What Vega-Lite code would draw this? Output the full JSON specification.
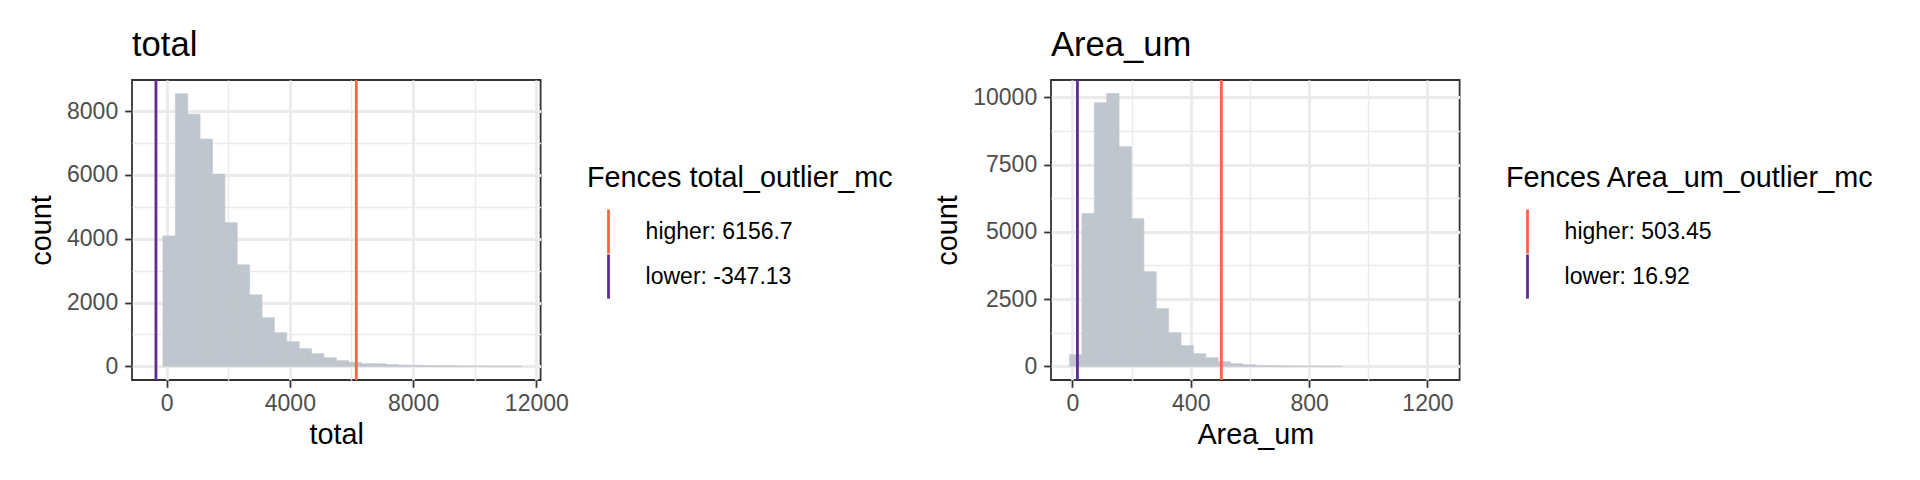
{
  "$schema": "https://vega.github.io/schema/vega-lite/v6.json",
  "padding": {"left": 26, "top": 27, "right": 5, "bottom": 5},
  "bounds": "flush",
  "spacing": 510,
  "datasets": {
    "bins_total": [
      {"bin_start": -119.8, "bin_end": 282.2, "count": 4090},
      {"bin_start": 282.2, "bin_end": 684.2, "count": 8550},
      {"bin_start": 684.2, "bin_end": 1086.1, "count": 7907},
      {"bin_start": 1086.1, "bin_end": 1488.0, "count": 7125},
      {"bin_start": 1488.0, "bin_end": 1889.9, "count": 6030},
      {"bin_start": 1889.9, "bin_end": 2291.9, "count": 4506},
      {"bin_start": 2291.9, "bin_end": 2693.8, "count": 3182},
      {"bin_start": 2693.8, "bin_end": 3095.7, "count": 2243},
      {"bin_start": 3095.7, "bin_end": 3497.7, "count": 1524},
      {"bin_start": 3497.7, "bin_end": 3899.6, "count": 1054},
      {"bin_start": 3899.6, "bin_end": 4301.5, "count": 773},
      {"bin_start": 4301.5, "bin_end": 4703.5, "count": 554},
      {"bin_start": 4703.5, "bin_end": 5105.4, "count": 397},
      {"bin_start": 5105.4, "bin_end": 5507.3, "count": 272},
      {"bin_start": 5507.3, "bin_end": 5909.2, "count": 178},
      {"bin_start": 5909.2, "bin_end": 6311.2, "count": 125},
      {"bin_start": 6311.2, "bin_end": 6713.1, "count": 86},
      {"bin_start": 6713.1, "bin_end": 7115.0, "count": 82},
      {"bin_start": 7115.0, "bin_end": 7517.0, "count": 58},
      {"bin_start": 7517.0, "bin_end": 7918.9, "count": 40},
      {"bin_start": 7918.9, "bin_end": 8320.8, "count": 32},
      {"bin_start": 8320.8, "bin_end": 8722.8, "count": 26},
      {"bin_start": 8722.8, "bin_end": 9124.7, "count": 20},
      {"bin_start": 9124.7, "bin_end": 9526.6, "count": 15},
      {"bin_start": 9526.6, "bin_end": 9928.5, "count": 11},
      {"bin_start": 9928.5, "bin_end": 10330.5, "count": 8},
      {"bin_start": 10330.5, "bin_end": 10732.4, "count": 4},
      {"bin_start": 10732.4, "bin_end": 11134.3, "count": 2},
      {"bin_start": 11134.3, "bin_end": 11536.2, "count": 1}
    ],
    "fences_total": [
      {"fence": "higher: 6156.7", "value": 6156.7},
      {"fence": "lower: -347.13", "value": -347.13}
    ],
    "bins_area": [
      {"bin_start": -9.6, "bin_end": 32.25, "count": 435},
      {"bin_start": 32.25, "bin_end": 74.1, "count": 5687},
      {"bin_start": 74.1, "bin_end": 115.95, "count": 9802},
      {"bin_start": 115.95, "bin_end": 157.8, "count": 10140},
      {"bin_start": 157.8, "bin_end": 199.65, "count": 8166},
      {"bin_start": 199.65, "bin_end": 241.5, "count": 5490},
      {"bin_start": 241.5, "bin_end": 283.35, "count": 3520},
      {"bin_start": 283.35, "bin_end": 325.2, "count": 2145},
      {"bin_start": 325.2, "bin_end": 367.05, "count": 1253},
      {"bin_start": 367.05, "bin_end": 408.9, "count": 769},
      {"bin_start": 408.9, "bin_end": 450.75, "count": 472},
      {"bin_start": 450.75, "bin_end": 492.6, "count": 323},
      {"bin_start": 492.6, "bin_end": 534.45, "count": 175},
      {"bin_start": 534.45, "bin_end": 576.3, "count": 100},
      {"bin_start": 576.3, "bin_end": 618.15, "count": 63},
      {"bin_start": 618.15, "bin_end": 660.0, "count": 34},
      {"bin_start": 660.0, "bin_end": 701.85, "count": 24},
      {"bin_start": 701.85, "bin_end": 743.7, "count": 16},
      {"bin_start": 743.7, "bin_end": 785.55, "count": 10},
      {"bin_start": 785.55, "bin_end": 827.4, "count": 6},
      {"bin_start": 827.4, "bin_end": 869.25, "count": 3},
      {"bin_start": 869.25, "bin_end": 911.1, "count": 2}
    ],
    "fences_area": [
      {"fence": "higher: 503.45", "value": 503.45},
      {"fence": "lower: 16.92", "value": 16.92}
    ]
  },
  "hconcat": [
    {
      "width": 408.6,
      "height": 300,
      "title": {"text": "total", "anchor": "start", "frame": "group", "fontSize": 34.6, "fontWeight": "normal", "color": "#000000", "offset": 15},
      "layer": [
        {
          "data": {"name": "bins_total"},
          "mark": {"type": "bar", "color": "#BFC6CD", "stroke": "#BFC6CD", "strokeWidth": 0.6},
          "encoding": {
            "x": {"field": "bin_start", "type": "quantitative", "scale": {"domain": [-1124.6, 12139], "nice": false, "zero": false},
              "axis": {"orient": "bottom", "values": [2000, 6000, 10000], "grid": true, "gridWidth": 1.4, "labels": false, "ticks": false, "domain": false, "title": null}},
            "x2": {"field": "bin_end"},
            "y": {"field": "count", "type": "quantitative", "scale": {"domain": [-427.5, 8977.5], "nice": false, "zero": false},
              "axis": {"orient": "left", "values": [1000, 3000, 5000, 7000], "grid": true, "gridWidth": 1.4, "labels": false, "ticks": false, "domain": false, "title": null}},
            "y2": {"datum": 0}
          }
        },
        {
          "data": {"name": "fences_total"},
          "mark": {"type": "rule", "strokeWidth": 2.8},
          "encoding": {
            "x": {"field": "value", "type": "quantitative",
              "axis": {"orient": "bottom", "values": [0, 4000, 8000, 12000], "format": "d", "grid": true, "title": "total"}},
            "y": {"datum": -427.5, "type": "quantitative", "axis": {"orient": "left", "values": [0, 2000, 4000, 6000, 8000], "format": "d", "grid": true, "title": "count"}},
            "y2": {"datum": 8977.5},
            "color": {"field": "fence", "type": "nominal",
              "scale": {"domain": ["higher: 6156.7", "lower: -347.13"], "range": ["#FF6347", "#5D2A97"]},
              "legend": {"title": "Fences total_outlier_mc",
                "encode": {"symbols": {"update": {"fill": {"signal": "indexof(datum.value, 'higher') === 0 ? '#FF6347' : '#5D2A97'"}, "fillOpacity": {"value": 1}, "strokeWidth": {"value": 0}, "strokeOpacity": {"value": 0}}}}}}
          }
        }
      ],
      "resolve": {"axis": {"x": "independent", "y": "independent"}}
    },
    {
      "width": 408.6,
      "height": 300,
      "title": {"text": "Area_um", "anchor": "start", "frame": "group", "fontSize": 34.6, "fontWeight": "normal", "color": "#000000", "offset": 15},
      "layer": [
        {
          "data": {"name": "bins_area"},
          "mark": {"type": "bar", "color": "#BFC6CD", "stroke": "#BFC6CD", "strokeWidth": 0.6},
          "encoding": {
            "x": {"field": "bin_start", "type": "quantitative", "scale": {"domain": [-72.4, 1308.7], "nice": false, "zero": false},
              "axis": {"orient": "bottom", "values": [200, 600, 1000], "grid": true, "gridWidth": 1.4, "labels": false, "ticks": false, "domain": false, "title": null}},
            "x2": {"field": "bin_end"},
            "y": {"field": "count", "type": "quantitative", "scale": {"domain": [-507, 10645], "nice": false, "zero": false},
              "axis": {"orient": "left", "values": [1250, 3750, 6250, 8750], "grid": true, "gridWidth": 1.4, "labels": false, "ticks": false, "domain": false, "title": null}},
            "y2": {"datum": 0}
          }
        },
        {
          "data": {"name": "fences_area"},
          "mark": {"type": "rule", "strokeWidth": 2.8},
          "encoding": {
            "x": {"field": "value", "type": "quantitative",
              "axis": {"orient": "bottom", "values": [0, 400, 800, 1200], "format": "d", "grid": true, "title": "Area_um"}},
            "y": {"datum": -507, "type": "quantitative", "axis": {"orient": "left", "values": [0, 2500, 5000, 7500, 10000], "format": "d", "grid": true, "title": "count"}},
            "y2": {"datum": 10645},
            "color": {"field": "fence", "type": "nominal",
              "scale": {"domain": ["higher: 503.45", "lower: 16.92"], "range": ["#FF6347", "#5D2A97"]},
              "legend": {"title": "Fences Area_um_outlier_mc",
                "encode": {"symbols": {"update": {"fill": {"signal": "indexof(datum.value, 'higher') === 0 ? '#FF6347' : '#5D2A97'"}, "fillOpacity": {"value": 1}, "strokeWidth": {"value": 0}, "strokeOpacity": {"value": 0}}}}}}
          }
        }
      ],
      "resolve": {"axis": {"x": "independent", "y": "independent"}}
    }
  ],
  "resolve": {"scale": {"x": "independent", "y": "independent", "color": "independent"}, "legend": {"color": "independent"}},
  "config": {
    "font": "Liberation Sans",
    "view": {"stroke": "#333333", "strokeWidth": 1.8},
    "axis": {
      "labelFontSize": 23, "labelColor": "#4D4D4D", "labelPadding": 7, "labelFlush": false, "labelOverlap": false,
      "titleFontSize": 28.8, "titleColor": "#000000", "titleFontWeight": "normal", "titlePadding": 5,
      "tickColor": "#333333", "tickSize": 7.3, "tickWidth": 1.8, "domain": false,
      "gridColor": "#EBEBEB", "gridWidth": 2.8
    },
    "axisX": {"labelPadding": 5},
    "axisY": {"titlePadding": 10.5},
    "legend": {
      "orient": "none", "legendX": 455, "legendY": 84.3, "direction": "vertical", "padding": 0,
      "titleFontSize": 28.8, "titleFontWeight": "normal", "titleColor": "#000000", "titlePadding": 16, "titleLimit": 1000,
      "labelFontSize": 23, "labelColor": "#000000", "labelOffset": 14.6, "labelLimit": 1000,
      "symbolType": "M-0.0633,-1L0.0633,-1L0.0633,1L-0.0633,1Z", "symbolSize": 1950, "symbolStrokeWidth": 0, "symbolOffset": -1, "rowPadding": 0
    }
  }
}
